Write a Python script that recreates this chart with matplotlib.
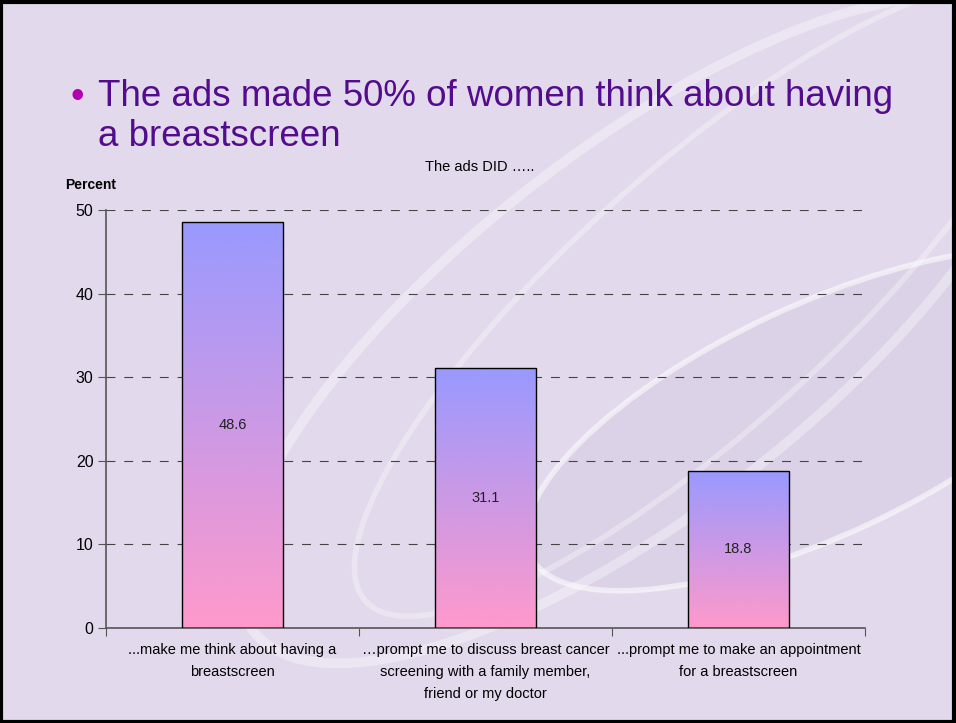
import numpy as np
import matplotlib.pyplot as plt
from matplotlib.colors import LinearSegmentedColormap
from matplotlib.patches import Rectangle, Ellipse

# --- data ---
kategori = ['...make me think about having a\nbreastscreen',
            '\u2026prompt me to discuss breast cancer\nscreening with a family member,\nfriend or my doctor',
            '...prompt me to make an appointment\nfor a breastscreen']
persen = [48.6, 31.1, 18.8]
y_ticks = [0, 10, 20, 30, 40, 50]

plt.rcParams['font.family'] = ['Liberation Sans', 'DejaVu Sans']

bg = '#E2DAEC'
fig = plt.figure(figsize=(9.56, 7.23), dpi=100)
fig.patch.set_facecolor(bg)

# hiasan latar slide (lengkungan putih samar)
deco = fig.add_axes([0, 0, 1, 1])
deco.set_xlim(0, 956)
deco.set_ylim(723, 0)
deco.axis('off')
deco.add_patch(Ellipse((820, 420), 640, 230, angle=-25, fc='#D6CCE4', ec='white',
                       lw=4, alpha=0.55))
deco.add_patch(Ellipse((640, 330), 980, 360, angle=-38, fc='none', ec='white',
                       lw=7, alpha=0.35))
deco.add_patch(Ellipse((700, 300), 900, 260, angle=-42, fc='none', ec='white',
                       lw=4, alpha=0.3))
deco.add_patch(Rectangle((1.5, 1.5), 953, 720, fill=False, ec='black', lw=3))

# judul
fig.text(71 / 956, 1 - 98 / 723, '\u2022', color='#B000B0', fontsize=28, va='center')
fig.text(98 / 956, 1 - 96 / 723, 'The ads made 50% of women think about having',
         color='#520C8C', fontsize=26.5, va='center')
fig.text(98 / 956, 1 - 136 / 723, 'a breastscreen',
         color='#520C8C', fontsize=26.5, va='center')

# --- grafik ---
ax = fig.add_axes([106 / 956, 1 - 628 / 723, (865 - 106) / 956, (628 - 210) / 723])
ax.set_facecolor('none')
x = np.arange(len(persen))

cmap = LinearSegmentedColormap.from_list('grad', ['#FF99CC', '#9999FF'])
grad = np.linspace(0, 1, 256).reshape(-1, 1)
bars = ax.bar(x, persen, width=0.4, color='none', edgecolor='black', linewidth=1, zorder=3)
for b in bars:
    x0, w, h = b.get_x(), b.get_width(), b.get_height()
    im = ax.imshow(grad, extent=[x0, x0 + w, 0, h], origin='lower', cmap=cmap,
                   aspect='auto', zorder=2)
    im.set_clip_path(b)
    ax.text(x0 + w / 2, h / 2, f'{h:.1f}', ha='center', va='center', fontsize=10.5,
            color='#222222', zorder=4)
ax.set_xlim(-0.5, len(persen) - 0.5)
ax.set_ylim(0, 50)

ax.set_yticks(y_ticks)
ax.tick_params(axis='y', labelsize=11.5, length=6, color='#555555', pad=3)
ax.yaxis.grid(True, linestyle=(0, (8, 8)), color='#444444', linewidth=0.8, zorder=1)
ax.set_axisbelow(True)

ax.set_xticks(np.arange(-0.5, len(persen), 1.0))
ax.set_xticklabels([])
ax.set_xticks(x, minor=True)
ax.set_xticklabels(kategori, minor=True, fontsize=10.5, linespacing=1.7, va='top')
ax.tick_params(axis='x', which='major', length=6, color='#555555')
ax.tick_params(axis='x', which='minor', length=0, pad=11)

for s in ['top', 'right']:
    ax.spines[s].set_visible(False)
ax.spines['left'].set_color('#555555')
ax.spines['bottom'].set_color('#555555')
ax.spines['left'].set_linewidth(1.2)
ax.spines['bottom'].set_linewidth(1.2)

fig.text(480 / 956, 1 - 167 / 723, 'The ads DID \u2026..', ha='center', va='center', fontsize=10.5)
fig.text(65 / 956, 1 - 185 / 723, 'Percent', ha='left', va='center', fontsize=10, fontweight='bold')

fig.savefig('out.png', dpi=100, facecolor=fig.get_facecolor())
